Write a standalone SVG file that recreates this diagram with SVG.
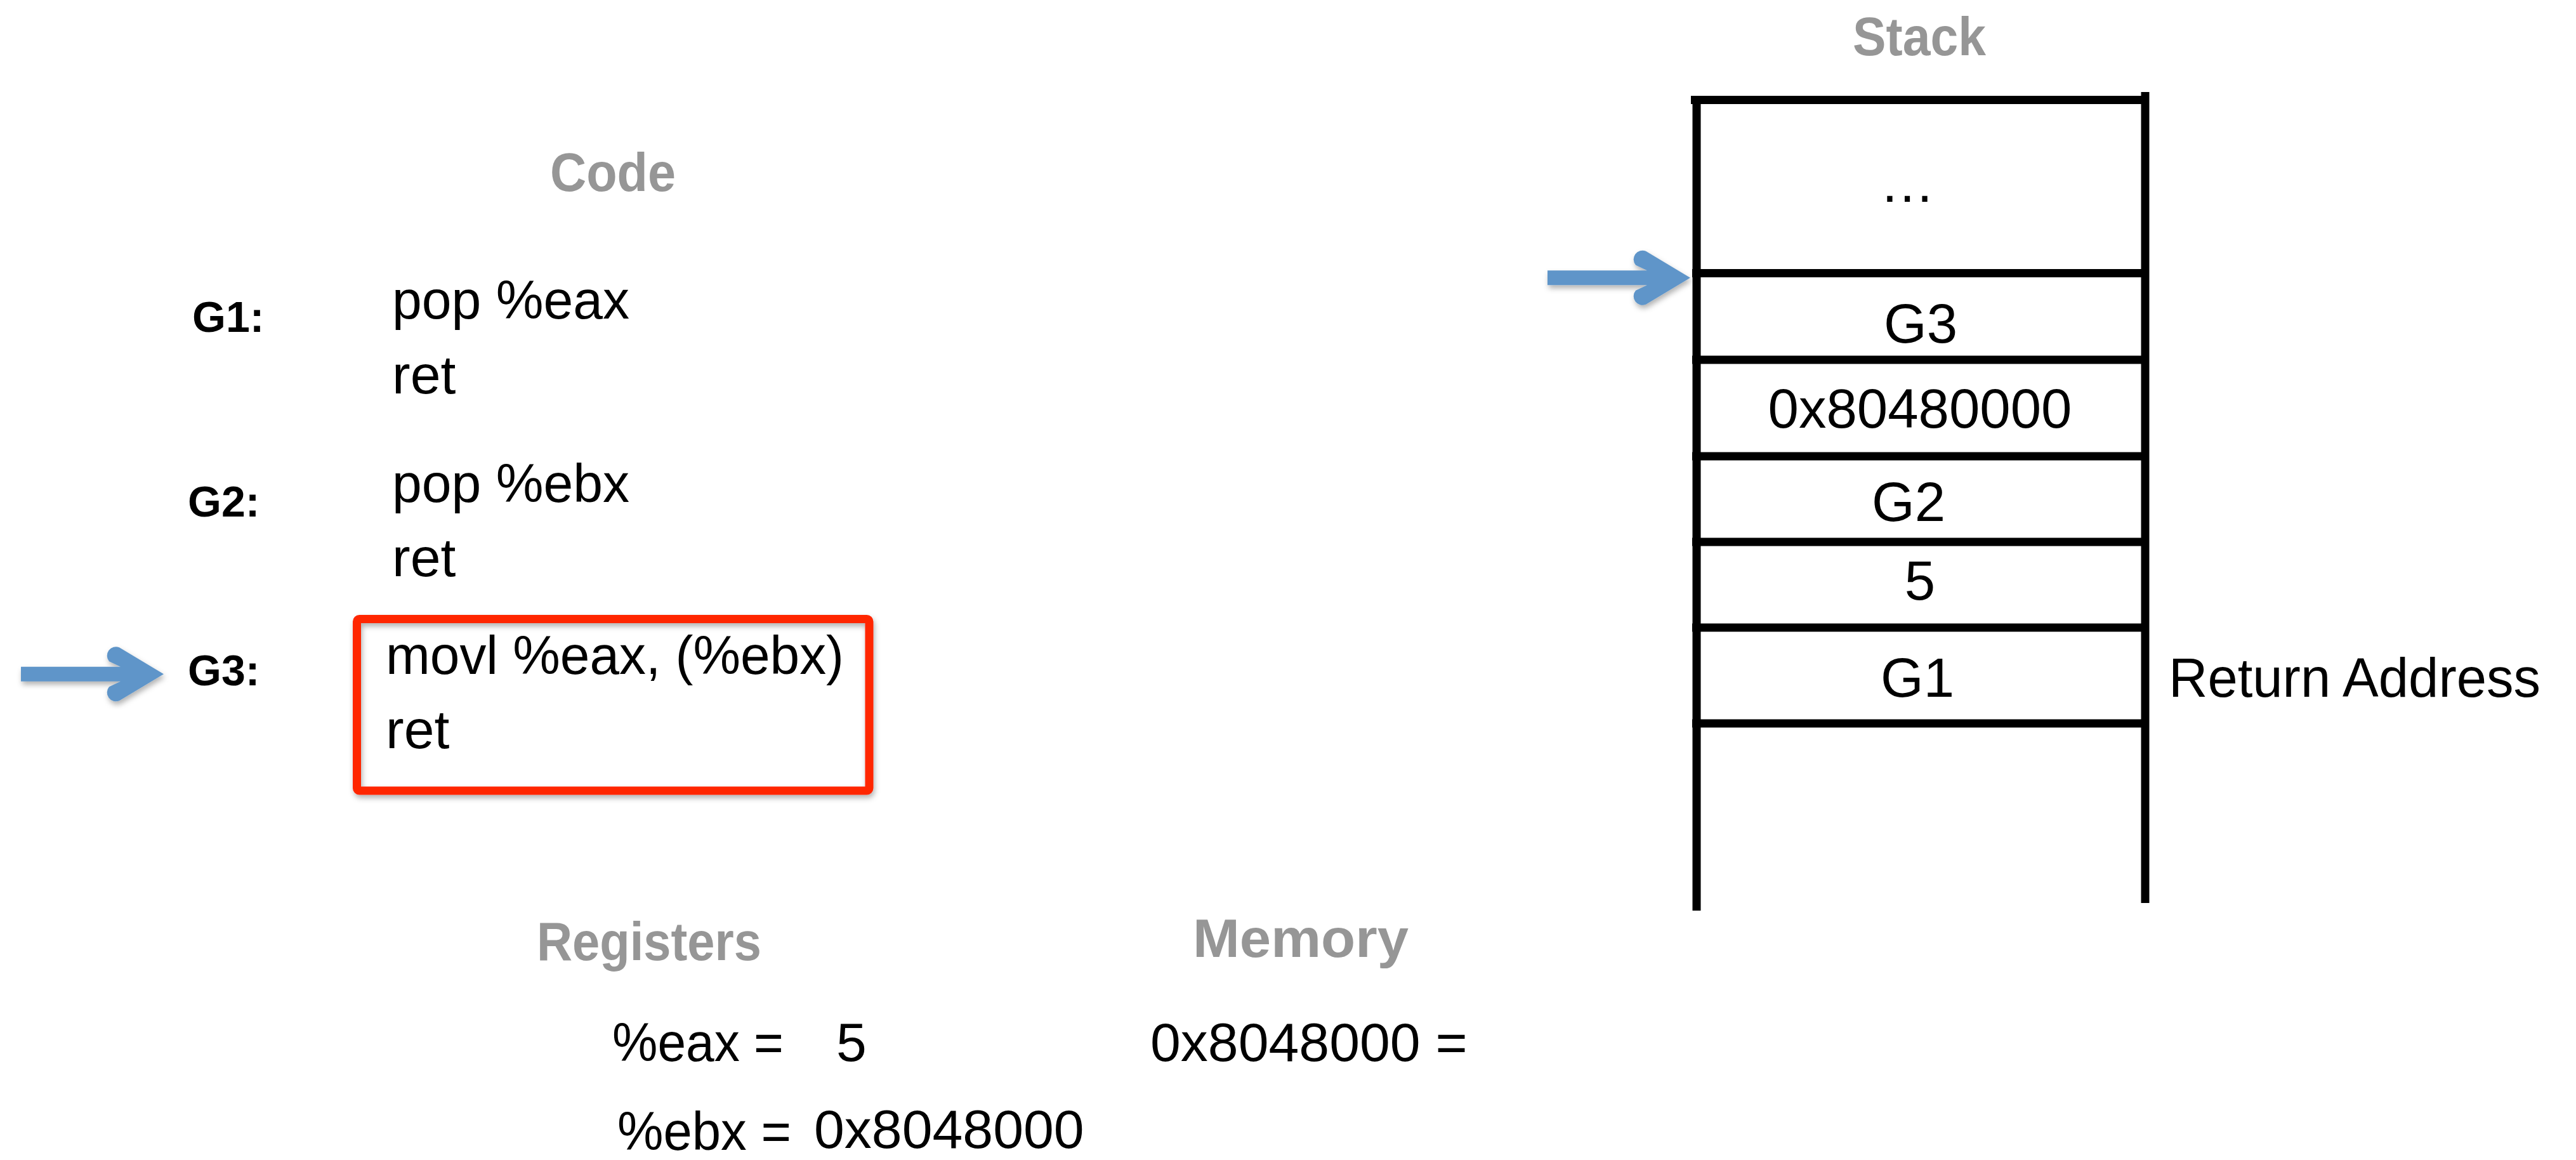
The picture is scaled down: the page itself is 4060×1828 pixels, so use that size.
<svg xmlns="http://www.w3.org/2000/svg" width="4060" height="1828" viewBox="0 0 4060 1828">
<style>
text{font-family:"Liberation Sans",Arial,Helvetica,sans-serif;fill:#000}
.title{font-weight:bold;font-size:85px;fill:#969696;text-anchor:middle}
.lbl{font-weight:bold;font-size:68px}
.code{font-size:86px}
.cell{font-size:87px;text-anchor:middle}
.line{stroke:#000;stroke-width:13;fill:none}
.ptr{fill:#5E95C9}
</style>
<defs>
<filter id="sh" x="-10%" y="-20%" width="130%" height="150%">
<feDropShadow dx="2" dy="5" stdDeviation="4" flood-color="#000" flood-opacity="0.3"/>
</filter>
<path id="arrow" d="M -225,-11.5 L -68,-11.5 L -86,-20 A 14 14 0 0 1 -70,-42 L 0,0 L -70,42 A 14 14 0 0 1 -86,20 L -68,11.5 L -225,11.5 Z"/>
</defs>
<rect width="4060" height="1828" fill="#fff"/>

<g id="code-title"><text class="title" x="966" y="301" textLength="198" lengthAdjust="spacingAndGlyphs">Code</text></g>

<g id="g1">
<text class="lbl" x="303" y="523">G1:</text>
<text class="code" x="618" y="502" textLength="374" lengthAdjust="spacingAndGlyphs">pop %eax</text>
<text class="code" x="618" y="620">ret</text>
</g>

<g id="g2">
<text class="lbl" x="296" y="814">G2:</text>
<text class="code" x="618" y="791" textLength="374" lengthAdjust="spacingAndGlyphs">pop %ebx</text>
<text class="code" x="618" y="908">ret</text>
</g>

<g id="g3">
<rect x="562.5" y="975.5" width="807.5" height="270.5" rx="4" fill="none" stroke="#FF2600" stroke-width="13" filter="url(#sh)"/>
<text class="lbl" x="296" y="1080">G3:</text>
<text class="code" x="608" y="1062" textLength="722" lengthAdjust="spacingAndGlyphs">movl %eax, (%ebx)</text>
<text class="code" x="608" y="1179">ret</text>
</g>

<g id="stack">
<text class="title" x="3025" y="87" textLength="210" lengthAdjust="spacingAndGlyphs">Stack</text>
<line class="line" x1="2665" y1="157.5" x2="3381" y2="157.5"/>
<line class="line" x1="2674" y1="164" x2="2674" y2="1435"/>
<line class="line" x1="3381" y1="145" x2="3381" y2="1423"/>
<line class="line" x1="2667" y1="430.5" x2="3381" y2="430.5"/>
<line class="line" x1="2667" y1="567" x2="3381" y2="567"/>
<line class="line" x1="2667" y1="719" x2="3381" y2="719"/>
<line class="line" x1="2667" y1="854" x2="3381" y2="854"/>
<line class="line" x1="2667" y1="989" x2="3381" y2="989"/>
<line class="line" x1="2667" y1="1140" x2="3381" y2="1140"/>
<text class="cell" x="3006" y="318" font-size="92">…</text>
<text class="cell" x="3027" y="540">G3</text>
<text class="cell" x="3026" y="674">0x80480000</text>
<text class="cell" x="3008" y="821">G2</text>
<text class="cell" x="3026" y="945">5</text>
<text class="cell" x="3022" y="1098">G1</text>
<text class="cell" x="3418" y="1098" style="text-anchor:start" textLength="586" lengthAdjust="spacingAndGlyphs">Return Address</text>
</g>

<g id="registers">
<text class="title" x="1023" y="1513" textLength="354" lengthAdjust="spacingAndGlyphs">Registers</text>
<text class="code" x="965" y="1672" textLength="270" lengthAdjust="spacingAndGlyphs">%eax =</text>
<text class="code" x="1318" y="1672">5</text>
<text class="code" x="973" y="1812" textLength="274" lengthAdjust="spacingAndGlyphs">%ebx =</text>
<text class="code" x="1283" y="1809">0x8048000</text>
</g>

<g id="memory">
<text class="title" x="2050" y="1508" textLength="340" lengthAdjust="spacingAndGlyphs">Memory</text>
<text class="code" x="1813" y="1672">0x8048000 =</text>
</g>

<g id="connectors">
<use href="#arrow" class="ptr" filter="url(#sh)" transform="translate(258,1062.3)"/>
<use href="#arrow" class="ptr" filter="url(#sh)" transform="translate(2664,437.7)"/>
</g>
</svg>
